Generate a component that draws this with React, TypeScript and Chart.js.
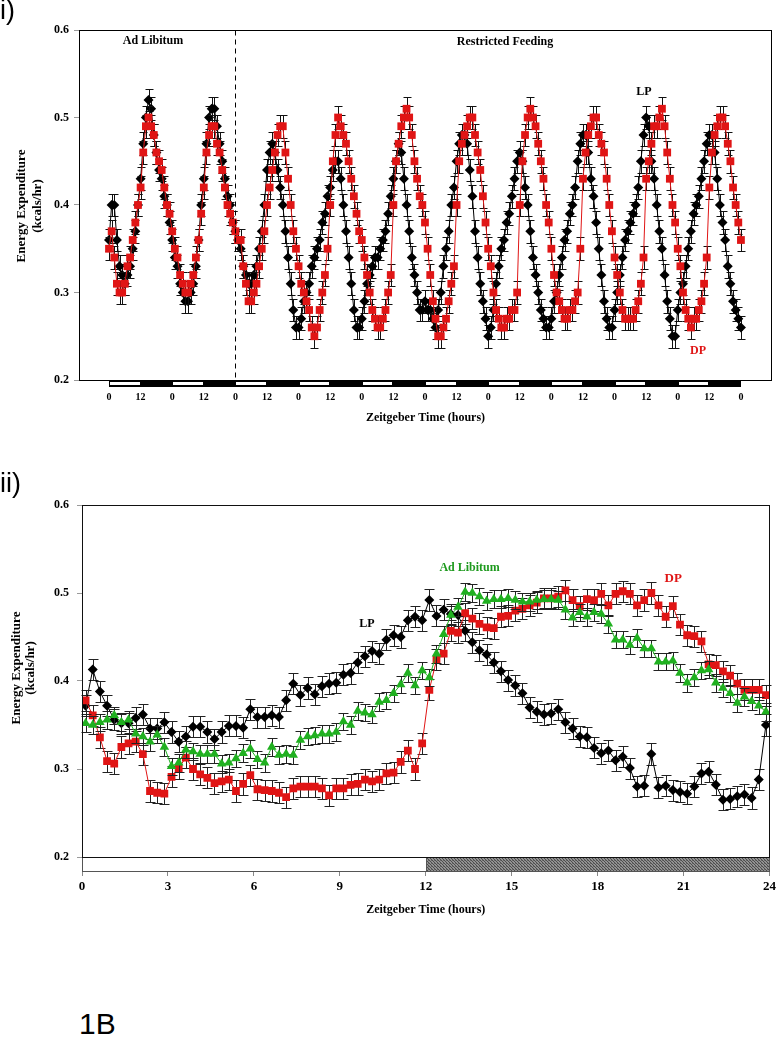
import React, { useEffect, useRef } from 'react';
import { Chart, registerables } from 'chart.js';

Chart.register(...registerables);

const SERIF = '"Liberation Serif", "Times New Roman", Times, serif';
const SANS = '"Liberation Sans", Arial, Helvetica, sans-serif';
const RED = '#e01515';
const GREEN = '#20b020';
const BLACK = '#000000';

// ---------- Panel i) : 10 days, read hourly ----------
const TOP_STEP_H = 1;
const FEEDING_SWITCH_H = 48;
const topDP = [
  0.35, 0.37, 0.34, 0.31, 0.30, 0.30, 0.31, 0.33, 0.34, 0.36, 0.38, 0.40, 0.42, 0.46, 0.49, 0.50, 0.49, 0.48, 0.46, 0.45, 0.44, 0.42, 0.40, 0.39,
  0.37, 0.35, 0.34, 0.32, 0.31, 0.30, 0.30, 0.31, 0.32, 0.34, 0.36, 0.39, 0.42, 0.46, 0.48, 0.49, 0.49, 0.47, 0.46, 0.44, 0.42, 0.40, 0.39, 0.38,
  0.37, 0.36, 0.36, 0.33, 0.31, 0.29, 0.29, 0.30, 0.31, 0.33, 0.35, 0.37, 0.40, 0.42, 0.44, 0.46, 0.48, 0.49, 0.49, 0.46, 0.43, 0.40, 0.37, 0.35,
  0.33, 0.31, 0.30, 0.29, 0.28, 0.26, 0.25, 0.26, 0.28, 0.30, 0.32, 0.35, 0.40, 0.45, 0.48, 0.50, 0.49, 0.48, 0.47, 0.45, 0.43, 0.41, 0.39, 0.37,
  0.36, 0.34, 0.32, 0.30, 0.28, 0.27, 0.26, 0.26, 0.27, 0.28, 0.30, 0.32, 0.40, 0.45, 0.47, 0.49, 0.50, 0.51, 0.50, 0.48, 0.45, 0.43, 0.41, 0.40,
  0.38, 0.35, 0.32, 0.29, 0.27, 0.25, 0.25, 0.26, 0.27, 0.29, 0.31, 0.33, 0.40, 0.45, 0.47, 0.48, 0.49, 0.50, 0.50, 0.48, 0.46, 0.44, 0.41, 0.38,
  0.35, 0.33, 0.30, 0.28, 0.27, 0.26, 0.26, 0.27, 0.27, 0.28, 0.28, 0.30, 0.40, 0.45, 0.48, 0.50, 0.51, 0.50, 0.49, 0.47, 0.45, 0.43, 0.40, 0.38,
  0.35, 0.32, 0.30, 0.29, 0.28, 0.27, 0.27, 0.28, 0.28, 0.29, 0.30, 0.35, 0.43, 0.46, 0.48, 0.49, 0.50, 0.50, 0.48, 0.47, 0.46, 0.43, 0.40, 0.37,
  0.34, 0.32, 0.30, 0.28, 0.27, 0.27, 0.27, 0.27, 0.28, 0.29, 0.31, 0.34, 0.43, 0.45, 0.47, 0.49, 0.49, 0.50, 0.51, 0.49, 0.46, 0.43, 0.40, 0.38,
  0.35, 0.33, 0.30, 0.28, 0.27, 0.26, 0.27, 0.27, 0.28, 0.29, 0.31, 0.34, 0.42, 0.46, 0.48, 0.49, 0.50, 0.50, 0.49, 0.47, 0.45, 0.42, 0.40, 0.38,
  0.36,
];
const topLP = [
  0.36, 0.40, 0.40, 0.36, 0.33, 0.32, 0.31, 0.32, 0.33, 0.35, 0.37, 0.40, 0.43, 0.47, 0.50, 0.52, 0.51, 0.48, 0.46, 0.44, 0.43, 0.41, 0.40, 0.38,
  0.36, 0.34, 0.33, 0.31, 0.30, 0.29, 0.29, 0.30, 0.31, 0.33, 0.36, 0.40, 0.43, 0.47, 0.50, 0.51, 0.51, 0.49, 0.47, 0.45, 0.43, 0.41, 0.40, 0.38,
  0.37, 0.36, 0.35, 0.33, 0.32, 0.31, 0.31, 0.32, 0.33, 0.35, 0.37, 0.40, 0.44, 0.46, 0.47, 0.46, 0.44, 0.42, 0.40, 0.37, 0.34, 0.31, 0.28, 0.26,
  0.26, 0.27, 0.29, 0.30, 0.31, 0.33, 0.34, 0.35, 0.36, 0.38, 0.39, 0.41, 0.42, 0.44, 0.45, 0.45, 0.43, 0.40, 0.37, 0.34, 0.31, 0.28, 0.26, 0.26,
  0.27, 0.29, 0.31, 0.32, 0.33, 0.34, 0.34, 0.35, 0.36, 0.37, 0.39, 0.41, 0.43, 0.45, 0.47, 0.46, 0.43, 0.40, 0.37, 0.34, 0.32, 0.30, 0.28, 0.28,
  0.29, 0.28, 0.28, 0.27, 0.26, 0.28, 0.30, 0.33, 0.35, 0.37, 0.40, 0.42, 0.45, 0.47, 0.48, 0.48, 0.47, 0.44, 0.41, 0.37, 0.34, 0.31, 0.29, 0.27,
  0.25, 0.26, 0.28, 0.31, 0.33, 0.35, 0.36, 0.38, 0.39, 0.41, 0.43, 0.45, 0.46, 0.45, 0.42, 0.40, 0.37, 0.34, 0.32, 0.30, 0.28, 0.27, 0.26, 0.26,
  0.27, 0.29, 0.30, 0.32, 0.34, 0.36, 0.37, 0.39, 0.40, 0.42, 0.45, 0.47, 0.48, 0.48, 0.46, 0.43, 0.41, 0.38, 0.35, 0.32, 0.29, 0.27, 0.26, 0.26,
  0.28, 0.30, 0.32, 0.34, 0.36, 0.37, 0.38, 0.39, 0.40, 0.42, 0.45, 0.48, 0.50, 0.49, 0.45, 0.43, 0.40, 0.37, 0.35, 0.32, 0.29, 0.27, 0.25, 0.25,
  0.28, 0.30, 0.31, 0.33, 0.35, 0.37, 0.39, 0.40, 0.41, 0.43, 0.45, 0.47, 0.48, 0.48, 0.46, 0.43, 0.40, 0.38, 0.36, 0.33, 0.31, 0.29, 0.28, 0.27,
  0.26,
];
const TOP_SEM = 0.013;
const topXTicks = [0, 12, 24, 36, 48, 60, 72, 84, 96, 108, 120, 132, 144, 156, 168, 180, 192, 204, 216, 228, 240];
const topXTickLabels = ['0', '12', '0', '12', '0', '12', '0', '12', '0', '12', '0', '12', '0', '12', '0', '12', '0', '12', '0', '12', '0'];
const yTicks = [0.2, 0.3, 0.4, 0.5, 0.6];
const yTickLabels = ['0.2', '0.3', '0.4', '0.5', '0.6'];

// ---------- Panel ii) : one averaged day, 15-min bins ----------
const BOTTOM_STEP_H = 0.25;
const BOTTOM_OFFSET_H = 0.125;
const bottomLP = [
  0.372, 0.413, 0.388, 0.372, 0.356, 0.352, 0.352, 0.358, 0.362, 0.346,
  0.346, 0.353, 0.342, 0.331, 0.337, 0.348, 0.348, 0.342, 0.334, 0.342,
  0.349, 0.349, 0.347, 0.368, 0.359, 0.359, 0.361, 0.359, 0.378, 0.397,
  0.384, 0.392, 0.385, 0.394, 0.397, 0.398, 0.407, 0.409, 0.421, 0.428,
  0.434, 0.431, 0.447, 0.452, 0.450, 0.469, 0.473, 0.469, 0.492, 0.474,
  0.481, 0.476, 0.475, 0.457, 0.444, 0.435, 0.430, 0.421, 0.411, 0.401,
  0.395, 0.386, 0.370, 0.365, 0.362, 0.363, 0.368, 0.353, 0.346, 0.337,
  0.336, 0.324, 0.318, 0.321, 0.310, 0.314, 0.301, 0.280, 0.281, 0.317,
  0.279, 0.281, 0.276, 0.274, 0.272, 0.280, 0.295, 0.297, 0.282, 0.265,
  0.266, 0.269, 0.271, 0.267, 0.288, 0.350,
];
const bottomDP = [
  0.378, 0.361, 0.336, 0.309, 0.306, 0.325, 0.329, 0.331, 0.317, 0.275,
  0.273, 0.272, 0.291, 0.301, 0.313, 0.300, 0.294, 0.290, 0.284, 0.286,
  0.288, 0.275, 0.283, 0.293, 0.277, 0.276, 0.275, 0.273, 0.268, 0.278,
  0.280, 0.280, 0.280, 0.278, 0.270, 0.278, 0.278, 0.282, 0.283, 0.288,
  0.286, 0.288, 0.295, 0.296, 0.308, 0.321, 0.300, 0.329, 0.390, 0.424,
  0.431, 0.457, 0.455, 0.477, 0.471, 0.465, 0.461, 0.460, 0.473, 0.474,
  0.480, 0.482, 0.486, 0.489, 0.494, 0.494, 0.496, 0.503, 0.492, 0.485,
  0.493, 0.492, 0.499, 0.486, 0.499, 0.502, 0.499, 0.486, 0.492, 0.500,
  0.486, 0.473, 0.485, 0.464, 0.452, 0.451, 0.445, 0.419, 0.418, 0.411,
  0.406, 0.397, 0.390, 0.390, 0.390, 0.384,
];
const bottomAL = [
  0.352, 0.350, 0.353, 0.356, 0.361, 0.353, 0.356, 0.340, 0.337, 0.331,
  0.339, 0.325, 0.303, 0.307, 0.322, 0.320, 0.317, 0.317, 0.317, 0.306,
  0.307, 0.312, 0.318, 0.323, 0.311, 0.307, 0.325, 0.316, 0.317, 0.316,
  0.333, 0.337, 0.338, 0.340, 0.340, 0.342, 0.354, 0.350, 0.366, 0.364,
  0.362, 0.376, 0.378, 0.386, 0.396, 0.409, 0.395, 0.412, 0.404, 0.431,
  0.453, 0.475, 0.484, 0.501, 0.500, 0.496, 0.491, 0.493, 0.493, 0.494,
  0.492, 0.490, 0.490, 0.492, 0.493, 0.493, 0.492, 0.481, 0.472, 0.478,
  0.473, 0.478, 0.476, 0.465, 0.447, 0.447, 0.441, 0.449, 0.437, 0.437,
  0.422, 0.422, 0.423, 0.409, 0.398, 0.404, 0.412, 0.413, 0.398, 0.392,
  0.386, 0.375, 0.382, 0.377, 0.372, 0.365,
];
const BOTTOM_SEM_LP = 0.012;
const BOTTOM_SEM_DP = 0.012;
const BOTTOM_SEM_AL = 0.010;
const bottomXTicks = [0, 3, 6, 9, 12, 15, 18, 21, 24];
const bottomXTickLabels = ['0', '3', '6', '9', '12', '15', '18', '21', '24'];

const Y_TITLE = ['Energy Expenditure', '(kcals/hr)'];
const X_TITLE = 'Zeitgeber Time (hours)';

function makePattern(ctx: CanvasRenderingContext2D) {
  const c = document.createElement('canvas');
  c.width = 3;
  c.height = 3;
  const p = c.getContext('2d')!;
  p.fillStyle = '#929292';
  p.fillRect(0, 0, 3, 3);
  p.fillStyle = '#4c4c4c';
  p.fillRect(0, 0, 1, 1);
  p.fillRect(1, 1, 1, 1);
  p.fillRect(2, 2, 1, 1);
  p.fillStyle = '#6a6a6a';
  p.fillRect(2, 0, 1, 1);
  return ctx.createPattern(c, 'repeat');
}

const decorPlugin = {
  id: 'decor',
  beforeDatasetDraw(chart: any, args: any, opts: any) {
    const ds = chart.data.datasets[args.index];
    const err = ds.errorBar;
    if (!err) return;
    const ys = chart.scales.y;
    const ctx = chart.ctx as CanvasRenderingContext2D;
    const cap = opts.cap || 4;
    ctx.save();
    ctx.strokeStyle = opts.errColor || '#111';
    ctx.lineWidth = 1;
    ctx.beginPath();
    args.meta.data.forEach((pt: any, i: number) => {
      const v = ds.data[i].y;
      const x = Math.round(pt.x) + 0.5;
      const yt = Math.round(ys.getPixelForValue(v + err)) + 0.5;
      const yb = Math.round(ys.getPixelForValue(v - err)) + 0.5;
      ctx.moveTo(x, yt);
      ctx.lineTo(x, yb);
      ctx.moveTo(x - cap, yt);
      ctx.lineTo(x + cap, yt);
      ctx.moveTo(x - cap, yb);
      ctx.lineTo(x + cap, yb);
    });
    ctx.stroke();
    ctx.restore();
  },
  afterDatasetsDraw(chart: any, _args: any, opts: any) {
    const ctx = chart.ctx as CanvasRenderingContext2D;
    const { left, right, top, bottom } = chart.chartArea;
    const xs = chart.scales.x;
    const ys = chart.scales.y;
    const L = Math.round(left) + 0.5;
    const R = Math.round(right) - 0.5;
    const T = Math.round(top) + 0.5;
    const B = Math.round(bottom) + 0.5;
    ctx.save();

    if (opts.dashedHour !== undefined) {
      const x = Math.round(xs.getPixelForValue(opts.dashedHour)) + 0.5;
      ctx.strokeStyle = '#000';
      ctx.lineWidth = 1;
      ctx.setLineDash([5, 4]);
      ctx.beginPath();
      ctx.moveTo(x, T);
      ctx.lineTo(x, B);
      ctx.stroke();
      ctx.setLineDash([]);
    }

    const db = opts.dayBar;
    if (db && db.kind === 'blocks') {
      const x0 = xs.getPixelForValue(db.start);
      const x1 = xs.getPixelForValue(db.end);
      const yb = Math.round(bottom);
      ctx.fillStyle = '#000';
      ctx.fillRect(Math.round(x0), yb, Math.round(x1 - x0), db.height);
      ctx.fillStyle = '#fff';
      for (let d = db.start; d < db.end; d += db.period) {
        const a = Math.round(xs.getPixelForValue(d)) + 1;
        const e = Math.round(xs.getPixelForValue(d + db.light)) - 1;
        ctx.fillRect(a, yb + 2, e - a, db.height - 4);
      }
    }
    if (db && db.kind === 'hatched') {
      const yb = Math.round(bottom) + 0.5;
      const xa = Math.round(xs.getPixelForValue(db.start)) + 0.5;
      const xm = Math.round(xs.getPixelForValue(db.light)) + 0.5;
      const xe = Math.round(xs.getPixelForValue(db.end)) - 0.5;
      ctx.fillStyle = '#fff';
      ctx.fillRect(xa, yb, xm - xa, db.height);
      const pat = makePattern(ctx);
      ctx.fillStyle = pat || '#8c8c8c';
      ctx.fillRect(xm, yb, xe - xm, db.height);
      ctx.strokeStyle = '#555';
      ctx.lineWidth = 1;
      ctx.strokeRect(xa, yb, xm - xa, db.height);
      ctx.strokeRect(xm, yb, xe - xm, db.height);
    }

    ctx.strokeStyle = opts.frameColor || '#000';
    ctx.lineWidth = 1;
    ctx.strokeRect(L, T, R - L, B - T);

    (opts.notes || []).forEach((n: any) => {
      ctx.font = `bold ${n.size}px ${SERIF}`;
      ctx.fillStyle = n.color;
      ctx.textAlign = 'center';
      ctx.textBaseline = 'middle';
      ctx.fillText(n.text, xs.getPixelForValue(n.hour), ys.getPixelForValue(n.value));
    });

    if (opts.xTitle) {
      ctx.font = `bold ${opts.xTitle.size}px ${SERIF}`;
      ctx.fillStyle = '#000';
      ctx.textAlign = 'center';
      ctx.textBaseline = 'middle';
      ctx.fillText(opts.xTitle.text, (left + right) / 2, opts.xTitle.y);
    }
    if (opts.yTitle) {
      ctx.font = `bold ${opts.yTitle.size}px ${SERIF}`;
      ctx.fillStyle = '#000';
      ctx.textAlign = 'center';
      ctx.textBaseline = 'middle';
      ctx.translate(opts.yTitle.x, opts.yTitle.y);
      ctx.rotate(-Math.PI / 2);
      opts.yTitle.lines.forEach((s: string, i: number) => {
        ctx.fillText(s, 0, i * opts.yTitle.gap);
      });
    }
    ctx.restore();
  },
};

function seriesPoints(values: number[], step: number, offset: number) {
  return values.map((v, i) => ({ x: offset + i * step, y: v }));
}

function yScale(width: number, pad: number) {
  return {
    type: 'linear',
    min: 0.2,
    max: 0.6,
    afterFit: (s: any) => {
      s.width = width;
    },
    afterBuildTicks: (s: any) => {
      s.ticks = yTicks.map((v) => ({ value: v }));
    },
    ticks: {
      callback: (_v: any, i: number) => yTickLabels[i],
      font: { family: SERIF, size: 12, weight: 'bold' },
      color: '#000',
      padding: pad,
    },
    grid: { drawOnChartArea: false, tickLength: 5, color: '#9a9a9a' },
    border: { display: false },
  };
}

function seriesStyle(color: string, style: string, radius: number, order: number, err: number) {
  return {
    borderColor: color,
    backgroundColor: color,
    pointBackgroundColor: color,
    pointBorderColor: color,
    pointStyle: style,
    pointRadius: radius,
    pointBorderWidth: 0,
    borderWidth: 1,
    tension: 0,
    order,
    errorBar: err,
  };
}

export default function App() {
  const topRef = useRef<HTMLCanvasElement>(null);
  const botRef = useRef<HTMLCanvasElement>(null);

  useEffect(() => {
    Chart.defaults.font.family = SERIF;
    Chart.defaults.color = '#000';

    const top = new Chart(topRef.current!, {
      type: 'line',
      data: {
        datasets: [
          { label: 'DP', data: seriesPoints(topDP, TOP_STEP_H, 0), ...seriesStyle(RED, 'rect', 5.5, 0, TOP_SEM) } as any,
          { label: 'LP', data: seriesPoints(topLP, TOP_STEP_H, 0), ...seriesStyle(BLACK, 'rectRot', 5, 1, TOP_SEM) } as any,
        ],
      },
      options: {
        responsive: false,
        animation: false,
        events: [],
        layout: { padding: { left: 0, right: 7, top: 30, bottom: 0 } },
        plugins: {
          legend: { display: false },
          tooltip: { enabled: false },
          decor: {
            cap: 4,
            errColor: '#111',
            frameColor: '#000',
            dashedHour: FEEDING_SWITCH_H,
            dayBar: { kind: 'blocks', start: 0, end: 240, period: 24, light: 12, height: 7 },
            xTitle: { text: X_TITLE, y: 418, size: 12 },
            yTitle: { lines: Y_TITLE, x: 22, y: 206, gap: 16, size: 13 },
            notes: [
              { text: 'Ad Libitum', hour: 16.7, value: 0.587, color: '#000', size: 12 },
              { text: 'Restricted Feeding', hour: 150.4, value: 0.586, color: '#000', size: 12 },
              { text: 'LP', hour: 203.2, value: 0.529, color: '#000', size: 12 },
              { text: 'DP', hour: 223.7, value: 0.233, color: RED, size: 12 },
            ],
          },
        } as any,
        scales: {
          x: {
            type: 'linear',
            min: -11.4,
            max: 251.8,
            afterFit: (s: any) => {
              s.height = 60;
            },
            afterBuildTicks: (s: any) => {
              s.ticks = topXTicks.map((v) => ({ value: v }));
            },
            ticks: {
              autoSkip: false,
              maxRotation: 0,
              padding: 3,
              font: { family: SERIF, size: 10, weight: 'bold' },
              color: '#000',
              callback: (_v: any, i: number) => topXTickLabels[i],
            },
            grid: { display: false },
            border: { display: false },
          },
          y: yScale(79, 5) as any,
        },
      },
      plugins: [decorPlugin as any],
    });

    const bottom = new Chart(botRef.current!, {
      type: 'line',
      data: {
        datasets: [
          { label: 'Ad Libitum', data: seriesPoints(bottomAL, BOTTOM_STEP_H, BOTTOM_OFFSET_H), ...seriesStyle(GREEN, 'triangle', 5.5, 0, BOTTOM_SEM_AL) } as any,
          { label: 'DP', data: seriesPoints(bottomDP, BOTTOM_STEP_H, BOTTOM_OFFSET_H), ...seriesStyle(RED, 'rect', 5.5, 1, BOTTOM_SEM_DP) } as any,
          { label: 'LP', data: seriesPoints(bottomLP, BOTTOM_STEP_H, BOTTOM_OFFSET_H), ...seriesStyle(BLACK, 'rectRot', 5, 2, BOTTOM_SEM_LP) } as any,
        ],
      },
      options: {
        responsive: false,
        animation: false,
        events: [],
        layout: { padding: { left: 0, right: 5, top: 65, bottom: 0 } },
        plugins: {
          legend: { display: false },
          tooltip: { enabled: false },
          decor: {
            cap: 5,
            errColor: '#222',
            frameColor: '#111',
            dayBar: { kind: 'hatched', start: 0, end: 24, light: 12, height: 14 },
            xTitle: { text: X_TITLE, y: 470, size: 12 },
            yTitle: { lines: Y_TITLE, x: 17, y: 228, gap: 14, size: 13 },
            notes: [
              { text: 'LP', hour: 9.95, value: 0.465, color: '#000', size: 12 },
              { text: 'Ad Libitum', hour: 13.53, value: 0.528, color: '#1e9a1e', size: 12 },
              { text: 'DP', hour: 20.64, value: 0.516, color: RED, size: 13 },
            ],
          },
        } as any,
        scales: {
          x: {
            type: 'linear',
            min: 0,
            max: 24,
            afterFit: (s: any) => {
              s.height = 83;
            },
            afterBuildTicks: (s: any) => {
              s.ticks = bottomXTicks.map((v) => ({ value: v }));
            },
            ticks: {
              autoSkip: false,
              maxRotation: 0,
              padding: 3,
              font: { family: SERIF, size: 13, weight: 'bold' },
              color: '#000',
              callback: (_v: any, i: number) => bottomXTickLabels[i],
            },
            grid: { display: true, drawOnChartArea: false, tickLength: 19, color: '#888' },
            border: { display: false },
          },
          y: yScale(82, 8) as any,
        },
      },
      plugins: [decorPlugin as any],
    });

    return () => {
      top.destroy();
      bottom.destroy();
    };
  }, []);

  const label = (text: string, left: number, topPx: number, size: number) => (
    <div
      style={{
        position: 'absolute',
        left,
        top: topPx,
        fontFamily: SANS,
        fontSize: size,
        lineHeight: `${Math.round(size * 1.12)}px`,
        color: '#000',
        whiteSpace: 'nowrap',
      }}
    >
      {text}
    </div>
  );

  return (
    <div style={{ position: 'absolute', left: 0, top: 0, width: 779, height: 1050, background: '#fff', overflow: 'hidden' }}>
      <canvas ref={topRef} width={779} height={440} style={{ position: 'absolute', left: 0, top: 0 }} />
      <canvas ref={botRef} width={779} height={500} style={{ position: 'absolute', left: 0, top: 440 }} />
      {label('i)', 0, -5, 27)}
      {label('ii)', 0, 468, 27)}
      {label('1B', 79, 1007, 30)}
    </div>
  );
}
